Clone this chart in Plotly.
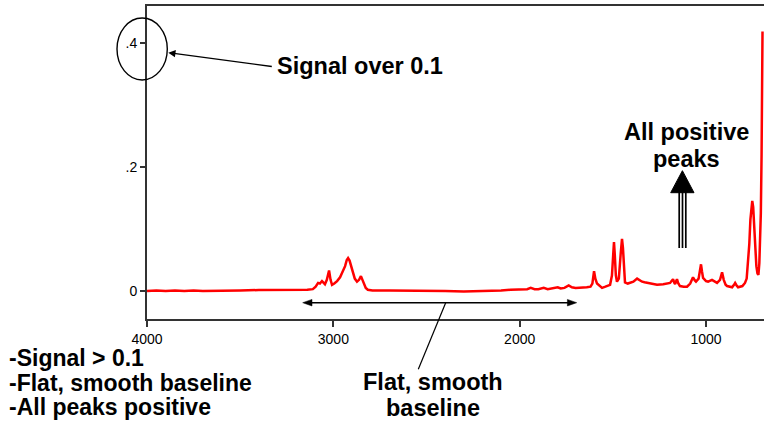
import plotly.graph_objects as go

# ---- data ----
wavenumber = [4000, 3950, 3900, 3850, 3800, 3750, 3700, 3600, 3500, 3400, 3300, 3200, 3140, 3110,
              3095, 3082, 3072, 3061, 3052, 3045, 3035, 3023, 3015, 3007, 2995, 2980, 2964, 2950,
              2937, 2928, 2921, 2913, 2905, 2895, 2885, 2873, 2862, 2852, 2845, 2836, 2826, 2815,
              2790, 2700, 2600, 2500, 2400, 2300, 2200, 2150, 2100, 2050, 2000, 1960, 1941, 1920,
              1900, 1871, 1850, 1820, 1796, 1780, 1760, 1737, 1720, 1700, 1672, 1640, 1620, 1610,
              1601, 1594, 1585, 1570, 1558, 1540, 1515, 1505, 1497, 1494, 1490, 1484, 1478, 1468,
              1458, 1451, 1446, 1440, 1435, 1420, 1408, 1390, 1370, 1355, 1343, 1330, 1317, 1290,
              1263, 1230, 1205, 1193, 1185, 1177, 1170, 1166, 1160, 1156, 1150, 1140, 1120, 1102,
              1085, 1070, 1060, 1054, 1040, 1032, 1027, 1022, 1016, 1000, 989, 968, 955, 941,
              925, 914, 905, 895, 887, 870, 860, 850, 844, 836, 828, 805, 791, 782,
              774, 768, 762, 757, 752, 747, 742, 736, 730, 724, 719, 714, 710, 706,
              702, 699, 697]
absorbance = [0.000, 0.001, 0.000, 0.001, 0.000, 0.001, 0.000, 0.001, 0.001, 0.0015, 0.0015, 0.002, 0.002, 0.003,
              0.007, 0.013, 0.012, 0.016, 0.013, 0.011, 0.018, 0.033, 0.018, 0.010, 0.012, 0.016, 0.022, 0.030,
              0.040, 0.050, 0.053, 0.049, 0.040, 0.030, 0.020, 0.015, 0.018, 0.024, 0.019, 0.010, 0.005, 0.002,
              0.001, 0.001, 0.001, 0.0005, 0.000, -0.001, -0.0005, 0.000, 0.001, 0.002, 0.002, 0.003, 0.005, 0.003,
              0.003, 0.005, 0.003, 0.004, 0.006, 0.004, 0.005, 0.009, 0.006, 0.005, 0.005, 0.006, 0.007, 0.012,
              0.032, 0.020, 0.012, 0.008, 0.005, 0.007, 0.010, 0.025, 0.070, 0.079, 0.060, 0.025, 0.015, 0.020,
              0.060, 0.084, 0.070, 0.030, 0.014, 0.012, 0.013, 0.015, 0.020, 0.017, 0.015, 0.014, 0.013, 0.011,
              0.010, 0.011, 0.012, 0.013, 0.016, 0.019, 0.013, 0.011, 0.016, 0.019, 0.013, 0.008, 0.007, 0.007,
              0.012, 0.022, 0.017, 0.015, 0.020, 0.033, 0.043, 0.032, 0.021, 0.016, 0.015, 0.018, 0.016, 0.013,
              0.018, 0.030, 0.018, 0.010, 0.008, 0.007, 0.006, 0.010, 0.013, 0.009, 0.006, 0.008, 0.013, 0.020,
              0.045, 0.075, 0.115, 0.140, 0.145, 0.135, 0.105, 0.065, 0.040, 0.028, 0.026, 0.045, 0.075, 0.125,
              0.220, 0.330, 0.418]

x_tick_vals = [4000, 3000, 2000, 1000]
x_tick_text = ["4000", "3000", "2000", "1000"]
y_tick_vals = [0, 0.2, 0.4]
y_tick_text = ["0", ".2", ".4"]

# ---- layout geometry ----
W, H = 764, 425
ML, MR, MT, MB = 147, 0, 6, 106
PW = W - ML - MR
PH = H - MT - MB
FONT = "Liberation Sans, Arial, Helvetica, sans-serif"
BIG = 23.5


def px(x):
    return (x - ML) / PW


def py(y):
    return (MT + PH - y) / PH


fig = go.Figure()
fig.add_trace(go.Scatter(x=wavenumber, y=absorbance, mode="lines",
                         line=dict(color="#ff0000", width=2.5), hoverinfo="skip"))

shapes = []
# ellipse around .4 tick label
shapes.append(dict(type="circle", xref="paper", yref="paper",
                   x0=px(117), x1=px(167.3), y0=py(80), y1=py(18),
                   line=dict(color="black", width=1.4)))
# triple-shaft arrow for "All positive peaks"
for sx in (679.2, 682.5, 685.8):
    shapes.append(dict(type="line", xref="paper", yref="paper",
                       x0=px(sx), x1=px(sx), y0=py(248), y1=py(191),
                       line=dict(color="black", width=1.7)))
shapes.append(dict(type="path", xref="paper", yref="paper",
                   path=f"M {px(682.4)},{py(170.7)} L {px(670.7)},{py(192.7)} L {px(694)},{py(192.7)} Z",
                   fillcolor="black", line=dict(color="black", width=1)))
# double-headed arrow
ya = 302.7
shapes.append(dict(type="line", xref="paper", yref="paper",
                   x0=px(308), x1=px(571), y0=py(ya), y1=py(ya),
                   line=dict(color="black", width=1.5)))
shapes.append(dict(type="path", xref="paper", yref="paper",
                   path=f"M {px(302.7)},{py(ya)} L {px(312)},{py(ya-3.3)} L {px(312)},{py(ya+3.3)} Z",
                   fillcolor="black", line=dict(color="black", width=0.5)))
shapes.append(dict(type="path", xref="paper", yref="paper",
                   path=f"M {px(576.7)},{py(ya)} L {px(567.4)},{py(ya-3.3)} L {px(567.4)},{py(ya+3.3)} Z",
                   fillcolor="black", line=dict(color="black", width=0.5)))
# pointer from label to double arrow
shapes.append(dict(type="line", xref="paper", yref="paper",
                   x0=px(445.7), x1=px(418.3), y0=py(ya), y1=py(369.3),
                   line=dict(color="black", width=1.2)))

annotations = []


def label(text, x, y, xanchor="center", size=BIG):
    annotations.append(dict(text=f"<b>{text}</b>", xref="paper", yref="paper",
                            x=px(x), y=py(y), xanchor=xanchor, yanchor="middle",
                            showarrow=False, borderpad=0,
                            font=dict(family=FONT, size=size, color="black")))


label("Signal over 0.1", 360, 66)
label("All positive", 686.5, 132)
label("peaks", 686.5, 159)
label("Flat, smooth", 433, 382)
label("baseline", 433, 408)
label("-Signal &gt; 0.1", 8, 358, "left", 23)
label("-Flat, smooth baseline", 8, 383, "left", 23)
label("-All peaks positive", 8, 407, "left", 23)

# arrow to the ellipse
annotations.append(dict(text="", xref="paper", yref="paper", x=px(168.3), y=py(52.7),
                        ax=105, ay=14, showarrow=True, arrowhead=2, arrowsize=1.1,
                        arrowwidth=1.3, arrowcolor="black", standoff=0))

fig.update_layout(
    width=W, height=H, autosize=False,
    margin=dict(l=ML, r=MR, t=MT, b=MB, pad=0),
    plot_bgcolor="white", paper_bgcolor="white",
    showlegend=False,
    font=dict(family=FONT, color="black"),
    shapes=shapes, annotations=annotations,
    xaxis=dict(range=[4000, 689], tickmode="array", tickvals=x_tick_vals, ticktext=x_tick_text,
               ticks="outside", ticklen=6, tickwidth=1.5, tickcolor="#333",
               showline=True, linecolor="#333", linewidth=2, mirror=True,
               showgrid=False, zeroline=False, tickfont=dict(family=FONT, size=14, color="black")),
    yaxis=dict(range=[-0.0451, 0.4591], tickmode="array", tickvals=y_tick_vals, ticktext=y_tick_text,
               ticks="outside", ticklen=5, tickwidth=1.5, tickcolor="#333",
               showline=True, linecolor="#333", linewidth=2, mirror=False,
               showgrid=False, zeroline=False, tickfont=dict(family=FONT, size=14, color="black")),
)

fig.write_html("out.html")
